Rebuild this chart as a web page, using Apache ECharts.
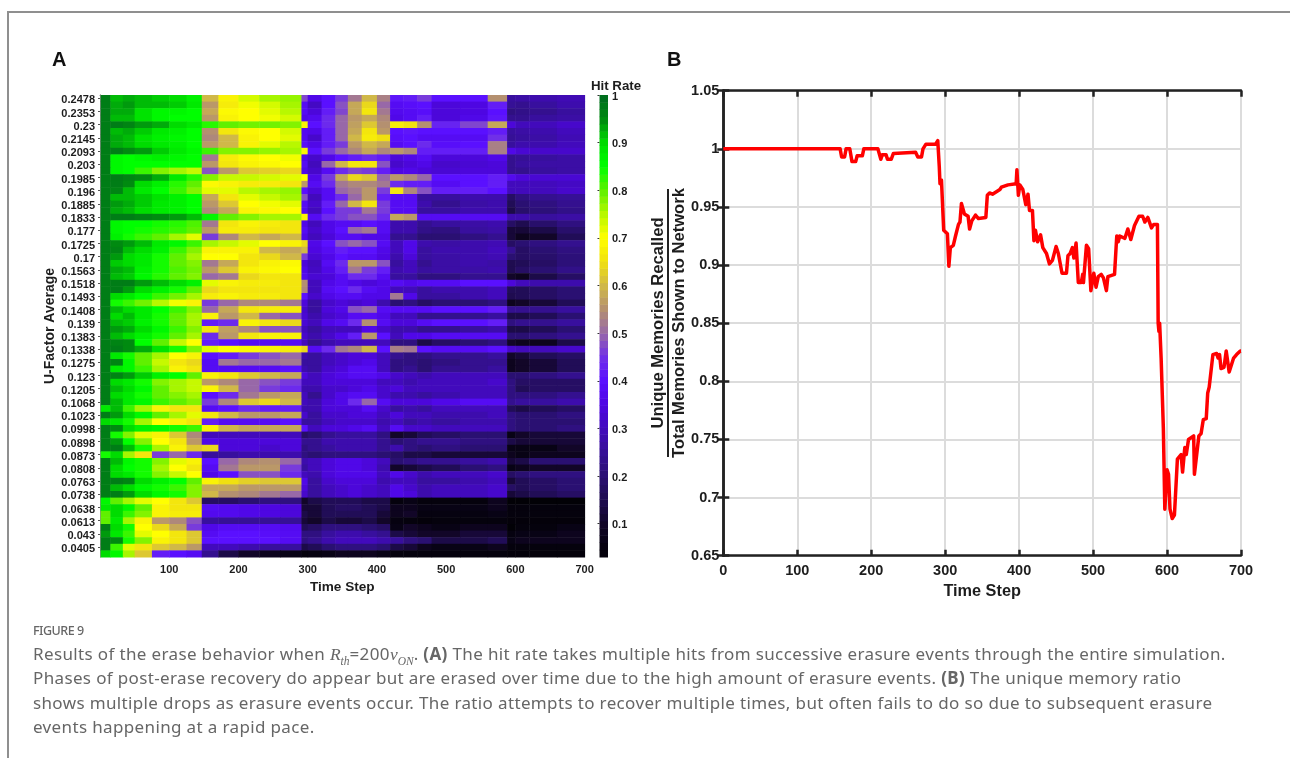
<!DOCTYPE html>
<html>
<head>
<meta charset="utf-8">
<title>Figure 9</title>
<script src="https://cdn.jsdelivr.net/npm/echarts@6/dist/echarts.min.js"></script>
<style>
html, body { margin: 0; padding: 0; background: #fff; width: 1290px; height: 758px; overflow: hidden; }
#chart { position: absolute; left: 0; top: 0; width: 1290px; height: 758px; }
#frame { position: absolute; left: 7px; top: 11px; width: 1290px; height: 760px; border: 2px solid #8f8f8f; box-sizing: border-box; }
#caption { position: absolute; left: 33px; top: 622px; color: #666; font-family: "Noto Sans", sans-serif; }
#caption .fig { font-size: 12.5px; line-height: 18px; font-weight: 500; letter-spacing: -0.5px; color: #666; margin-bottom: 2px; }
#caption .line { font-size: 17px; line-height: 24.3px; letter-spacing: 0.36px; white-space: nowrap; }
#caption em { font-family: "Liberation Serif", serif; font-size: 17.5px; letter-spacing: 0; }
#caption sub { font-size: 11.5px; line-height: 0; }
</style>
</head>
<body>
<div id="chart"></div>
<div id="frame"></div>
<div id="caption">
  <div class="fig">FIGURE 9</div>
  <div class="line">Results of the erase behavior when <em>R<sub>th</sub></em>=200<em>v<sub>ON</sub></em>. <b>(A)</b> The hit rate takes multiple hits from successive erasure events through the entire simulation.</div>
  <div class="line">Phases of post-erase recovery do appear but are erased over time due to the high amount of erasure events. <b>(B)</b> The unique memory ratio</div>
  <div class="line">shows multiple drops as erasure events occur. The ratio attempts to recover multiple times, but often fails to do so due to subsequent erasure</div>
  <div class="line">events happening at a rapid pace.</div>
</div>
<script>
// y labels of panel A, one for every second row
const uFactorLabels = ["0.2478","0.2353","0.23","0.2145","0.2093","0.203","0.1985","0.196","0.1885","0.1833","0.177","0.1725","0.17","0.1563","0.1518","0.1493","0.1408","0.139","0.1383","0.1338","0.1275","0.123","0.1205","0.1068","0.1023","0.0998","0.0898","0.0873","0.0808","0.0763","0.0738","0.0638","0.0613","0.043","0.0405"];

// time step edges of the heatmap blocks
const timeEdges = [1,15,33,50,75,100,125,147,171,200,230,260,291,300,320,340,358,378,400,419,438,458,479,520,560,588,600,620,660,700];

// hit rate in percent, one row per U-factor run, one value per block
const hitRate = [
[97,92,93,92,91,90,87,60,68,73,76,77,47,36,40,46,52,60,53,41,42,46,40,40,55,26,27,28,29],
[97,93,94,92,92,91,88,56,67,71,73,76,38,31,40,48,58,64,50,38,39,40,34,35,42,25,24,26,28],
[97,93,93,89,86,86,85,58,69,70,72,75,38,34,42,47,58,66,52,37,38,39,34,35,40,22,23,24,26],
[97,92,92,89,86,85,85,56,68,70,71,73,36,37,44,50,56,58,54,36,38,42,34,36,41,24,24,26,27],
[97,97,96,94,93,90,88,83,80,79,79,78,68,40,44,50,57,62,55,67,65,55,43,47,58,34,30,30,32],
[97,92,93,91,88,87,85,55,66,69,70,73,37,36,42,50,58,66,56,40,41,40,40,40,42,26,27,28,30],
[97,93,92,89,87,86,85,54,60,68,70,72,37,32,42,50,60,67,65,39,40,38,38,38,45,25,26,27,29],
[97,93,92,90,88,87,85,56,60,68,72,75,39,36,42,46,56,60,58,38,40,44,39,40,53,26,28,28,30],
[97,97,95,94,91,88,86,82,78,78,77,76,68,40,46,50,54,58,54,56,54,42,42,42,53,36,33,32,32],
[97,86,85,86,87,86,85,52,67,69,70,71,36,32,36,40,42,44,42,34,36,38,34,34,36,24,25,26,27],
[97,86,85,85,85,85,85,56,66,68,69,70,38,30,50,60,66,66,48,32,34,36,32,33,34,24,26,27,27],
[97,86,85,82,78,76,74,48,56,62,63,64,36,32,38,44,47,46,42,35,36,34,33,34,34,24,24,26,27],
[97,97,96,95,93,88,83,78,74,74,73,72,70,36,46,58,64,62,50,56,54,50,40,40,42,37,34,33,33],
[97,97,95,90,87,83,80,69,68,67,67,66,56,38,44,52,54,54,52,44,42,42,38,40,42,30,30,30,31],
[97,96,92,88,85,82,78,72,72,75,76,77,40,34,38,50,52,56,46,66,54,48,42,42,40,30,30,30,32],
[97,92,92,91,89,87,85,58,66,72,74,76,48,30,38,44,50,56,42,38,38,26,26,28,28,18,22,24,25],
[97,94,93,91,88,87,85,56,62,70,71,72,38,32,42,50,60,66,46,38,38,28,24,27,28,16,20,22,24],
[97,93,92,90,88,87,85,54,58,68,69,70,37,30,40,46,46,52,46,38,38,26,26,28,28,14,19,21,23],
[97,97,97,96,95,94,92,86,80,78,76,76,68,38,44,46,48,48,44,58,56,38,38,38,38,28,28,26,27],
[97,86,85,85,84,83,81,52,66,68,67,66,36,30,36,38,38,40,38,28,28,24,26,27,28,18,15,19,22],
[97,86,85,84,83,82,80,56,67,67,66,66,38,32,36,40,50,52,38,28,28,23,22,26,27,12,12,14,19],
[97,87,84,82,80,76,72,46,54,60,58,60,36,30,34,38,38,36,36,24,24,20,20,22,24,12,8,10,16],
[97,95,94,92,88,86,82,76,74,72,70,68,64,36,40,48,50,48,38,30,36,28,27,28,29,18,20,22,24],
[97,96,92,90,87,82,78,68,68,68,60,58,60,35,38,42,40,40,36,30,36,26,28,28,30,24,18,20,22],
[97,94,90,88,84,80,76,70,70,66,64,60,46,33,36,40,38,38,35,28,34,26,27,28,29,20,18,19,21],
[97,91,90,88,84,80,78,52,58,66,68,69,34,30,38,44,56,56,48,26,30,24,27,28,27,15,16,18,21],
[97,93,92,87,84,81,79,56,62,68,69,70,36,31,36,42,52,46,42,28,30,26,27,27,28,15,18,20,23],
[97,92,91,86,83,80,78,50,52,64,66,66,37,33,34,38,44,44,38,26,26,22,22,24,24,10,8,14,18],
[97,97,97,94,92,90,87,72,68,67,67,66,55,30,36,38,36,34,36,38,36,38,38,40,40,34,30,28,28],
[97,97,94,90,87,84,80,64,66,66,66,66,54,30,38,40,44,38,36,30,30,26,28,28,30,16,16,18,20],
[97,90,88,85,82,79,76,67,68,67,67,66,40,32,36,38,38,36,36,52,36,26,26,28,30,15,16,18,20],
[97,84,82,79,75,71,68,46,50,54,54,52,34,26,32,34,32,34,28,20,22,18,20,20,22,8,10,12,16],
[97,92,90,88,85,82,78,50,58,66,67,67,32,26,34,36,48,50,38,38,38,38,40,40,42,24,24,24,26],
[97,90,92,88,84,80,76,68,56,60,50,48,33,28,32,34,38,38,36,30,30,24,24,24,26,14,14,16,20],
[97,92,91,87,84,80,76,42,44,68,66,64,33,30,36,38,44,55,38,34,34,38,40,40,42,22,24,24,26],
[97,94,93,90,86,82,78,66,57,54,48,48,30,26,30,30,30,36,32,28,28,24,24,26,28,14,14,16,20],
[97,92,90,87,84,80,76,44,56,66,68,68,32,28,32,36,42,56,40,30,36,36,38,38,38,20,20,22,24],
[97,96,95,85,80,74,70,42,40,38,38,38,30,24,28,30,30,30,30,22,22,14,18,20,22,10,8,8,14],
[97,97,95,93,89,84,78,72,70,69,68,67,64,38,44,52,54,60,40,53,52,40,38,38,40,32,30,30,32],
[97,88,84,80,76,70,68,40,42,46,48,50,28,26,30,32,34,34,30,24,22,22,24,24,26,10,12,16,18],
[97,96,86,80,74,66,64,38,52,50,50,52,26,26,30,32,34,36,30,22,22,20,22,24,24,8,10,12,16],
[97,88,86,82,76,68,66,38,38,38,38,40,28,26,32,34,38,38,30,22,24,20,24,24,26,8,10,12,16],
[97,96,94,91,87,85,80,68,66,62,60,58,34,30,34,36,38,38,36,32,30,28,30,30,30,20,20,22,24],
[97,90,88,84,78,76,74,56,54,50,48,46,30,30,34,34,34,34,30,30,28,30,30,30,32,22,18,18,18],
[97,92,90,86,80,76,74,68,60,50,46,44,28,28,32,32,34,36,32,34,30,30,30,30,30,22,16,18,18],
[97,90,88,84,80,78,76,40,44,52,56,58,30,24,32,36,38,38,32,28,28,26,28,30,30,22,22,22,24],
[97,92,88,86,82,80,78,46,54,62,64,60,30,28,34,36,44,50,38,34,34,34,36,38,38,24,26,26,28],
[88,92,82,76,68,66,66,38,40,44,42,42,28,28,34,34,34,38,32,26,28,26,30,30,30,16,14,16,18],
[97,94,90,86,80,76,72,66,60,56,56,58,32,26,32,32,34,34,30,34,30,30,28,28,30,22,20,20,22],
[90,88,84,76,70,68,66,42,38,38,38,40,26,26,30,32,32,32,28,30,26,28,26,28,28,22,20,20,20],
[97,95,90,87,86,84,82,68,60,58,58,58,40,30,34,34,36,38,30,38,32,32,30,30,30,22,20,20,22],
[97,84,78,72,68,62,54,30,30,30,30,30,18,20,24,26,26,26,22,10,12,16,18,20,20,6,10,12,12],
[97,94,85,78,70,66,56,36,34,34,34,34,24,24,28,28,28,28,24,20,22,24,24,22,22,14,12,12,12],
[97,97,92,84,76,68,62,64,34,34,32,34,22,24,26,28,28,28,24,28,22,20,22,20,20,6,6,6,10],
[84,90,76,66,46,50,44,26,26,28,28,28,22,20,22,22,22,22,20,18,14,14,12,12,12,8,6,8,8],
[97,92,86,84,78,72,68,40,50,54,55,50,28,30,34,36,36,34,30,20,22,24,24,26,28,12,14,20,20],
[97,90,85,84,76,70,66,38,52,56,56,46,26,30,34,36,36,34,28,10,12,14,16,20,22,6,8,10,10],
[97,90,88,84,78,74,70,36,40,48,48,44,30,28,34,36,36,36,30,36,32,28,30,30,32,18,20,22,22],
[97,97,96,90,87,85,80,68,65,63,62,62,36,26,32,34,34,34,28,30,30,26,26,28,30,12,16,18,20],
[97,92,90,86,84,82,78,58,58,56,56,56,34,26,30,32,34,32,30,36,32,28,30,30,32,18,16,18,20],
[97,97,94,90,86,84,78,60,55,54,52,50,32,26,30,32,34,32,30,36,34,28,30,30,32,12,14,16,18],
[86,80,76,72,70,66,62,18,18,20,22,22,10,14,16,16,16,14,14,4,6,4,4,4,8,2,2,2,2],
[88,90,86,80,68,66,66,38,37,36,35,34,12,12,16,18,18,16,14,8,8,6,6,6,8,4,4,4,4],
[80,90,82,78,68,67,67,37,37,36,35,34,14,12,16,16,16,16,12,8,10,5,5,5,6,4,4,4,4],
[80,88,76,68,56,54,48,26,25,25,25,25,12,10,14,12,12,14,10,5,4,3,4,4,4,3,3,3,3],
[97,90,84,70,64,58,46,36,38,38,38,37,16,18,22,22,22,20,18,6,10,8,6,8,8,2,4,4,6],
[94,88,82,72,70,66,62,38,40,40,39,38,22,22,26,28,28,26,24,14,12,10,10,12,12,5,6,6,8],
[97,95,84,78,68,66,62,40,40,40,40,38,22,24,28,30,30,30,28,26,22,20,14,14,16,6,8,8,8],
[97,82,72,66,62,60,56,30,30,28,26,26,14,16,20,22,22,22,20,14,12,8,6,6,8,4,4,4,4],
[90,86,76,62,42,40,38,24,14,10,8,6,4,5,6,8,8,8,6,4,4,4,4,4,4,3,3,3,3]
];

// panel B: time steps and unique memory ratio
const ratioSteps = [0,158,160,164,166,171,174,179,181,188,190,209,213,215,220,222,227,230,260,263,268,270,274,287,290,292,293,295,296,298,303,305,307,311,314,318,320,322,323,326,331,333,336,341,345,355,357,360,364,374,376,385,396,397,399,401,405,409,412,414,418,420,422,425,429,432,437,441,445,450,453,458,464,466,469,472,474,477,480,484,486,487,491,494,497,501,504,507,511,514,518,520,529,532,534,536,543,547,551,556,562,567,570,574,579,582,587,588,589,590,592,593,595,597,600,602,604,607,610,614,619,621,624,626,629,636,637,639,643,646,649,653,655,657,662,667,669,671,673,677,680,684,686,690,694,699,700];
const ratioValues = [1,1,0.993,0.993,1,1,0.989,0.989,0.994,0.994,1,1,0.991,0.995,0.995,0.991,0.991,0.996,0.997,0.993,0.993,1,1.004,1.004,1.007,0.985,0.97,0.973,0.973,0.93,0.927,0.899,0.915,0.917,0.925,0.935,0.937,0.953,0.953,0.944,0.942,0.931,0.938,0.943,0.94,0.941,0.96,0.962,0.961,0.965,0.967,0.969,0.97,0.982,0.96,0.969,0.965,0.952,0.961,0.947,0.947,0.921,0.93,0.92,0.926,0.915,0.91,0.901,0.904,0.916,0.91,0.893,0.893,0.908,0.91,0.915,0.906,0.919,0.885,0.885,0.892,0.885,0.917,0.914,0.878,0.893,0.881,0.89,0.892,0.889,0.878,0.89,0.892,0.925,0.92,0.925,0.923,0.931,0.922,0.934,0.942,0.942,0.937,0.941,0.932,0.935,0.935,0.85,0.843,0.85,0.82,0.8,0.76,0.69,0.724,0.72,0.69,0.682,0.685,0.733,0.737,0.722,0.743,0.737,0.75,0.753,0.72,0.72,0.753,0.755,0.767,0.768,0.79,0.795,0.823,0.824,0.82,0.823,0.811,0.812,0.826,0.808,0.809,0.82,0.823,0.826,0.826];

// value levels drawn in the colour bar
const colorbarCount = 64;
const colorbarMin = 0.03;
const colorbarTicks = [0.1,0.2,0.3,0.4,0.5,0.6,0.7,0.8,0.9,1];

// colours every 0.05 from 0 to 1
const hitColors = ["#000000","#060210","#120628","#1f0c50","#2a1072","#361096","#420abc","#4e06e2","#5a10ff","#7030e8","#9868a8","#b49070","#d0b848","#f0e010","#ffff00","#b8f800","#60f000","#00ff00","#00dc00","#008a10","#006a20"];

const heatData = [];
hitRate.forEach((row, r) => {
  row.forEach((v, c) => {
    heatData.push([timeEdges[c], timeEdges[c + 1], r, v / 100]);
  });
});

const colorbarData = [];
for (let i = 0; i < colorbarCount; i++) {
  const lo = colorbarMin + (1 - colorbarMin) * i / colorbarCount;
  const hi = colorbarMin + (1 - colorbarMin) * (i + 1) / colorbarCount;
  colorbarData.push([lo, hi, (lo + hi) / 2]);
}

const labelFont = "Liberation Sans";
const darkText = "#1d1d1d";

function renderCell(params, api) {
  const start = api.coord([api.value(0), api.value(2)]);
  const end = api.coord([api.value(1), api.value(2)]);
  const h = api.size([0, 1])[1];
  return {
    type: "rect",
    shape: { x: start[0], y: start[1] - h / 2, width: end[0] - start[0] + 0.5, height: h + 0.5 },
    style: { fill: api.visual("color") },
  };
}

function renderLevel(params, api) {
  const a = api.coord([0, api.value(1)]);
  const b = api.coord([1, api.value(0)]);
  return {
    type: "rect",
    shape: { x: a[0], y: a[1], width: b[0] - a[0], height: b[1] - a[1] + 0.5 },
    style: { fill: api.visual("color") },
  };
}

const boldLabel = (size) => ({ fontFamily: labelFont, fontWeight: "bold", fontSize: size, color: darkText });
const frameLine = { show: true, lineStyle: { color: "#222", width: 2.5 } };

const option = {
  animation: false,
  textStyle: { fontFamily: labelFont },
  grid: [
    { left: 100, top: 95, width: 484.6, height: 462 },
    { left: 599.5, top: 95, width: 8.5, height: 462 },
    { left: 723.3, top: 90.7, width: 517.7, height: 465 },
  ],
  visualMap: [
    { show: false, type: "continuous", min: 0, max: 1, seriesIndex: 0, dimension: 3, inRange: { color: hitColors } },
    { show: false, type: "continuous", min: 0, max: 1, seriesIndex: 1, dimension: 2, inRange: { color: hitColors } },
  ],
  xAxis: [
    {
      gridIndex: 0, type: "value", min: 0, max: 700, interval: 100,
      name: "Time Step", nameLocation: "middle", nameGap: 20, nameTextStyle: boldLabel(13.6),
      axisLine: { lineStyle: { color: "#8c8c8c", width: 1 } },
      axisTick: { show: false },
      splitLine: { show: false },
      axisLabel: { ...boldLabel(11), margin: 7, formatter: (v) => (v === 0 ? "" : v) },
    },
    {
      gridIndex: 0, type: "value", position: "top", min: 0, max: 700, interval: 100,
      axisLine: { show: true, lineStyle: { color: "#8c8c8c", width: 1 } },
      axisTick: { inside: true, length: 2, lineStyle: { color: "#555" } },
      axisLabel: { show: false }, splitLine: { show: false },
    },
    { gridIndex: 1, type: "value", min: 0, max: 1, show: false },
    {
      gridIndex: 2, type: "value", min: 0, max: 700, interval: 100,
      name: "Time Step", nameLocation: "middle", nameGap: 28, nameTextStyle: boldLabel(16.3),
      axisLine: frameLine,
      axisTick: { inside: true, length: 6, lineStyle: { color: "#222", width: 2.5 } },
      splitLine: { show: true, lineStyle: { color: "#dcdcdc", width: 2 } },
      axisLabel: { ...boldLabel(14.5), margin: 8, hideOverlap: false },
    },
    {
      gridIndex: 2, type: "value", position: "top", min: 0, max: 700, interval: 100,
      axisLine: frameLine,
      axisTick: { inside: true, length: 6, lineStyle: { color: "#222", width: 2.5 } },
      axisLabel: { show: false }, splitLine: { show: false },
    },
  ],
  yAxis: [
    {
      gridIndex: 0, type: "category", inverse: true,
      data: hitRate.map((row, r) => (r % 2 === 0 ? uFactorLabels[r / 2] : "")),
      name: "U-Factor Average", nameLocation: "middle", nameRotate: 90, nameGap: 43, nameTextStyle: boldLabel(14),
      axisLine: { lineStyle: { color: "#8c8c8c", width: 1 } },
      axisTick: { show: false },
      axisLabel: { ...boldLabel(11), interval: 0, margin: 5, verticalAlign: "top", lineHeight: 4 },
    },
    {
      gridIndex: 0, type: "category", inverse: true, position: "right",
      data: hitRate.map((row, r) => r),
      axisLine: { show: true, lineStyle: { color: "#8c8c8c", width: 1 } },
      axisTick: { show: true, inside: true, length: 2, interval: 1, alignWithLabel: true, lineStyle: { color: "#555" } },
      axisLabel: { show: false },
    },
    {
      gridIndex: 1, type: "value", position: "right", min: colorbarMin, max: 1,
      axisLine: { show: false },
      axisTick: { show: true, inside: true, length: 2, customValues: colorbarTicks, lineStyle: { color: "#333" } },
      axisLabel: { ...boldLabel(11), margin: 4, customValues: colorbarTicks, verticalAlign: "top", lineHeight: 3, formatter: (v) => String(v) },
      splitLine: { show: false },
    },
    {
      gridIndex: 2, type: "value", min: 0.65, max: 1.05, interval: 0.05,
      axisLine: frameLine,
      axisTick: { inside: true, length: 6, lineStyle: { color: "#222", width: 2.5 } },
      splitLine: { show: true, lineStyle: { color: "#dcdcdc", width: 2 } },
      axisLabel: { ...boldLabel(14.5), margin: 4 },
    },
    {
      gridIndex: 2, type: "value", position: "right", min: 0.65, max: 1.05, interval: 0.05,
      axisLine: frameLine,
      axisTick: { inside: true, length: 6, lineStyle: { color: "#222", width: 2.5 } },
      axisLabel: { show: false }, splitLine: { show: false },
    },
  ],
  series: [
    {
      type: "custom", xAxisIndex: 0, yAxisIndex: 0,
      renderItem: renderCell,
      encode: { x: [0, 1], y: 2 },
      dimensions: ["from", "to", "row", "hit"],
      data: heatData,
      silent: true,
    },
    {
      type: "custom", xAxisIndex: 2, yAxisIndex: 2,
      renderItem: renderLevel,
      encode: { y: [0, 1] },
      dimensions: ["lo", "hi", "level"],
      data: colorbarData,
      silent: true,
    },
    {
      type: "line", xAxisIndex: 3, yAxisIndex: 3,
      data: ratioSteps.map((s, i) => [s, ratioValues[i]]),
      showSymbol: false,
      lineStyle: { color: "#ff0000", width: 3.5, join: "round" },
      silent: true,
      z: 5,
    },
  ],
  graphic: [
    { type: "text", x: 52, y: 50, style: { text: "A", font: "bold 20px " + labelFont, fill: "#111" } },
    { type: "text", x: 667, y: 50, style: { text: "B", font: "bold 20px " + labelFont, fill: "#111" } },
    { type: "text", x: 616, y: 86, style: { text: "Hit Rate", font: "bold 13.3px " + labelFont, fill: darkText, textAlign: "center", textVerticalAlign: "middle" } },
    { type: "text", x: 658, y: 323, rotation: Math.PI / 2, style: { text: "Unique Memories Recalled", font: "bold 16.6px " + labelFont, fill: darkText, textAlign: "center", textVerticalAlign: "middle" } },
    { type: "text", x: 679, y: 323, rotation: Math.PI / 2, style: { text: "Total Memories Shown to Network", font: "bold 16.6px " + labelFont, fill: darkText, textAlign: "center", textVerticalAlign: "middle" } },
    { type: "line", shape: { x1: 668, y1: 189, x2: 668, y2: 457 }, style: { stroke: "#222", lineWidth: 2 } },
  ],
};

const myChart = echarts.init(document.getElementById("chart"), null, { renderer: "canvas" });
myChart.setOption(option);
</script>
</body>
</html>
